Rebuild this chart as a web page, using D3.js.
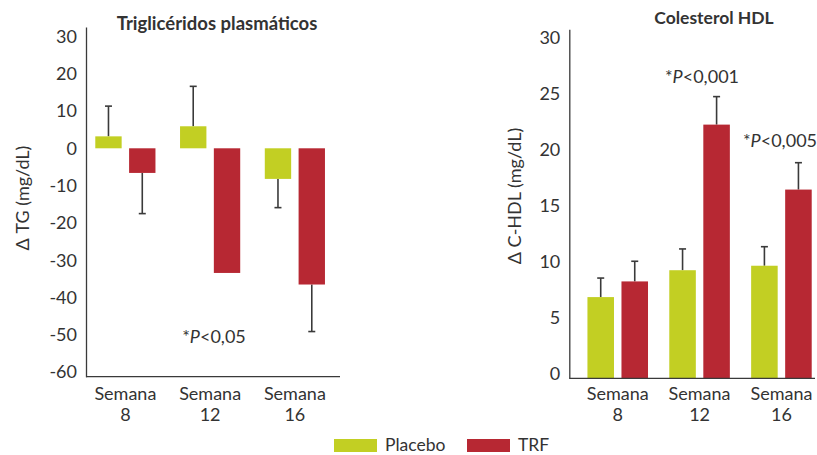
<!DOCTYPE html>
<html>
<head>
<meta charset="utf-8">
<script src="https://cdn.jsdelivr.net/npm/d3@7"></script>
<style>
  html, body { margin: 0; padding: 0; background: #fff; }
  svg { display: block; font-family: Lato, "Open Sans", sans-serif; }
</style>
</head>
<body>
<svg id="chart" width="817" height="455"></svg>
<script>
// Categories and series
const weeks = ["8", "12", "16"];
const series = ["Placebo", "TRF"];

// Plasma triglycerides change (mg/dL), with one-sided error magnitudes
const tgPlacebo = [3.2, 5.9, -8.2];
const tgTRF = [-6.6, -33.4, -36.5];
const tgPlaceboErr = [8.1, 10.7, 7.7];
const tgTRFErr = [10.9, null, 12.6];
const tgTicks = [30, 20, 10, 0, -10, -20, -30, -40, -50, -60];

// HDL cholesterol change (mg/dL)
const hdlPlacebo = [6.8, 9.2, 9.6];
const hdlTRF = [8.2, 22.2, 16.4];
const hdlPlaceboErr = [1.7, 1.9, 1.7];
const hdlTRFErr = [1.8, 2.5, 2.4];
const hdlTicks = [0, 5, 10, 15, 20, 25, 30];

const colors = { Placebo: "#c2cf23", TRF: "#b72833" };
const textColor = "#333";
const lineColor = "#3a3a3a";
const fontSize = "18px";

const svg = d3.select("#chart");

function panel(opt) {
  const g = svg.append("g");
  const y = d3.scaleLinear().domain(opt.yDomain).range(opt.yRange);
  const x0 = d3.scaleBand().domain(weeks).range(opt.xBand)
    .paddingInner(opt.padInner).paddingOuter(opt.padInner / 2);
  const x1 = d3.scaleBand().domain(series).range([0, x0.bandwidth()]).paddingInner(0.22);

  const rows = weeks.map((w, i) => ({
    week: w,
    items: [
      { s: "Placebo", v: opt.placebo[i], e: opt.placeboErr[i] },
      { s: "TRF", v: opt.trf[i], e: opt.trfErr[i] }
    ]
  }));

  const base = opt.fromAxis ? y.range()[0] : y(0);

  const grp = g.selectAll("g.week").data(rows).join("g")
    .attr("class", "week")
    .attr("transform", d => `translate(${x0(d.week)},0)`);

  // error bars (drawn first so bars sit on top)
  grp.selectAll("g.err").data(d => d.items.filter(it => it.e != null)).join("g")
    .attr("class", "err")
    .each(function(d) {
      const cx = x1(d.s) + x1.bandwidth() / 2;
      const end = d.v >= 0 ? d.v + d.e : d.v - d.e;
      const sel = d3.select(this);
      sel.append("line")
        .attr("x1", cx).attr("x2", cx)
        .attr("y1", y(d.v)).attr("y2", y(end))
        .attr("stroke", lineColor).attr("stroke-width", 1.6);
      sel.append("line")
        .attr("x1", cx - 3.5).attr("x2", cx + 3.5)
        .attr("y1", y(end)).attr("y2", y(end))
        .attr("stroke", lineColor).attr("stroke-width", 1.6);
    });

  grp.selectAll("rect").data(d => d.items).join("rect")
    .attr("x", d => x1(d.s))
    .attr("width", x1.bandwidth())
    .attr("y", d => Math.min(y(d.v), base))
    .attr("height", d => Math.abs(base - y(d.v)))
    .attr("fill", d => colors[d.s]);

  // y axis
  const ax = g.append("g")
    .attr("transform", `translate(${opt.axisX},0)`)
    .call(d3.axisLeft(y).tickValues(opt.ticks).tickSize(0).tickPadding(9)
      .tickFormat(d => String(d)));
  ax.select(".domain").attr("stroke", lineColor).attr("stroke-width", 1.3);
  ax.selectAll("text").attr("fill", textColor).style("font-size", fontSize)
    .style("font-family", "Lato, sans-serif");

  // x axis baseline
  g.append("line")
    .attr("x1", opt.axisX).attr("x2", opt.axisEnd)
    .attr("y1", y.range()[0]).attr("y2", y.range()[0])
    .attr("stroke", lineColor).attr("stroke-width", 1.3);

  // category labels
  const lab = g.selectAll("text.cat").data(weeks).join("text")
    .attr("class", "cat")
    .attr("text-anchor", "middle")
    .attr("fill", textColor)
    .style("font-size", fontSize);
  lab.append("tspan")
    .attr("x", d => x0(d) + x0.bandwidth() / 2)
    .attr("y", 400).text("Semana");
  lab.append("tspan")
    .attr("x", d => x0(d) + x0.bandwidth() / 2)
    .attr("y", 421).text(d => d);

  // title
  g.append("text")
    .attr("x", opt.titleX).attr("y", opt.titleY)
    .attr("text-anchor", "middle")
    .attr("fill", textColor)
    .style("font-size", opt.titleSize).style("font-weight", "bold")
    .text(opt.title);

  // y axis title
  g.append("text")
    .attr("transform", `translate(${opt.yTitleX},${opt.yTitleY}) rotate(-90)`)
    .attr("text-anchor", "middle")
    .attr("fill", textColor)
    .style("font-size", fontSize)
    .text(opt.yTitle);

  // significance notes
  opt.notes.forEach(n => {
    const t = g.append("text")
      .attr("x", n.x).attr("y", n.y)
      .attr("text-anchor", "middle")
      .attr("fill", textColor)
      .style("font-size", fontSize);
    t.append("tspan").text("*");
    t.append("tspan").style("font-style", "italic").text("P");
    t.append("tspan").text(n.text);
  });
}

panel({
  title: "Triglicéridos plasmáticos", titleX: 217, titleY: 30, titleSize: "18.5px",
  yTitle: "Δ TG (mg/dL)", yTitleX: 29, yTitleY: 198,
  yDomain: [-61.2, 32.5], yRange: [376.7, 27],
  xBand: [83, 337.25], padInner: 0.29,
  axisX: 86, axisEnd: 340, ticks: tgTicks,
  placebo: tgPlacebo, trf: tgTRF, placeboErr: tgPlaceboErr, trfErr: tgTRFErr,
  fromAxis: false,
  notes: [{ x: 214, y: 343, text: "<0,05" }]
});

panel({
  title: "Colesterol HDL", titleX: 714, titleY: 23.5, titleSize: "17.5px",
  yTitle: "Δ C-HDL (mg/dL)", yTitleX: 521, yTitleY: 196,
  yDomain: [-0.45, 30.71], yRange: [378.3, 29.3],
  xBand: [576.8, 822.35], padInner: 0.26,
  axisX: 569.3, axisEnd: 815, ticks: hdlTicks,
  placebo: hdlPlacebo, trf: hdlTRF, placeboErr: hdlPlaceboErr, trfErr: hdlTRFErr,
  fromAxis: true,
  notes: [{ x: 702, y: 83, text: "<0,001" }, { x: 780, y: 146.5, text: "<0,005" }]
});

// legend
const legend = svg.append("g");
series.forEach((s, i) => {
  const lx = i === 0 ? 334 : 467;
  legend.append("rect").attr("x", lx).attr("y", 439).attr("width", 43).attr("height", 13)
    .attr("fill", colors[s]);
  legend.append("text").attr("x", lx + 51).attr("y", 451)
    .attr("fill", textColor).style("font-size", "17.5px").text(s);
});
</script>
</body>
</html>
